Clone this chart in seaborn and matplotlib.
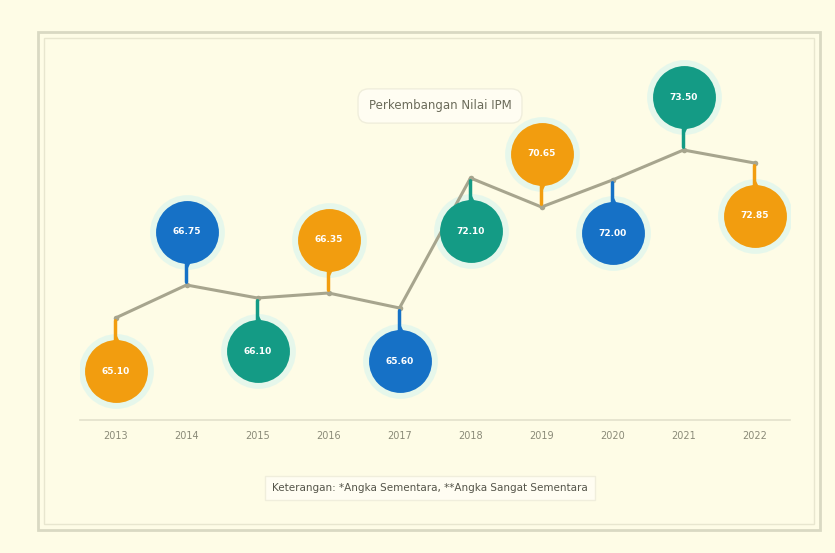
import matplotlib
matplotlib.use("Agg")
import matplotlib.pyplot as plt
import matplotlib.patches as mpatches
from matplotlib.transforms import offset_copy
import pandas as pd
import seaborn as sns

# data (labels are very blurry, values are estimates)
years = ['2013', '2014', '2015', '2016', '2017', '2018', '2019', '2020', '2021', '2022']
nilai = [65.10, 66.75, 66.10, 66.35, 65.60, 72.10, 70.65, 72.00, 73.50, 72.85]
posisi = ['bawah', 'atas', 'bawah', 'atas', 'bawah', 'bawah', 'atas', 'bawah', 'atas', 'bawah']
warna_bubble = ['#F29D0F', '#1671C6', '#149B85']

df = pd.DataFrame({'Tahun': range(len(years)), 'Nilai': nilai})

sns.set_theme(style='white')
plt.rcParams['font.family'] = ['DejaVu Sans']

bg = '#FEFCE6'
fig = plt.figure(figsize=(8.35, 5.53), dpi=100, facecolor=bg)
ax = fig.add_axes([80 / 835, (553 - 420) / 553, 710 / 835, 360 / 553])
ax.set_facecolor(bg)

# frame around the chart (double thin border)
fig.patches.append(mpatches.Rectangle((38 / 835, 1 - 530 / 553), 782 / 835, 498 / 553,
                                      transform=fig.transFigure, fill=False,
                                      edgecolor='#D9D9C3', linewidth=2.0))
fig.patches.append(mpatches.Rectangle((44 / 835, 1 - 524 / 553), 770 / 835, 486 / 553,
                                      transform=fig.transFigure, fill=False,
                                      edgecolor='#E8E6CF', linewidth=1.0))

sns.lineplot(data=df, x='Tahun', y='Nilai', ax=ax, color='#A7A58E', linewidth=2.2,
             marker='o', markersize=4, markeredgewidth=0, zorder=2)

# pin bubbles: circle offset from the point, pointer and stem toward the point
for i, (v, p) in enumerate(zip(nilai, posisi)):
    c = warna_bubble[i % 3]
    sign = 1 if p == 'atas' else -1
    tr_bub = offset_copy(ax.transData, fig=fig, x=0, y=sign * 53, units='dots')
    tr_tip = offset_copy(ax.transData, fig=fig, x=0, y=sign * 25, units='dots')
    ax.scatter([i], [v], transform=tr_bub, s=2900, color='#DDF6EE', alpha=0.7,
               linewidths=0, zorder=1.5)
    ax.annotate('', xy=(i, v), xytext=(0, sign * 30), textcoords='offset pixels',
                arrowprops=dict(arrowstyle='-', color=c, linewidth=2.5), zorder=3)
    ax.scatter([i], [v], transform=tr_tip, marker='v' if sign > 0 else '^', s=150,
               color=c, linewidths=0, zorder=5)
    ax.scatter([i], [v], transform=tr_bub, s=2050, color=c, linewidths=0, zorder=5)
    ax.text(i, v, f'{v:.2f}', transform=tr_bub, ha='center', va='center',
            fontsize=6.5, color='white', fontweight='bold', zorder=6)

ax.set_xlim(-0.5, 9.5)
ax.set_ylim(60, 78)
ax.set_xticks(range(len(years)))
ax.set_xticklabels(years, fontsize=7, color='#8A8A78')
ax.set_yticks([])
ax.set_xlabel('')
ax.set_ylabel('')
ax.tick_params(axis='x', length=0, pad=8)
for s in ['top', 'left', 'right']:
    ax.spines[s].set_visible(False)
ax.spines['bottom'].set_color('#E3E1CC')
ax.spines['bottom'].set_linewidth(1.2)

fig.text(440 / 835, 1 - 106 / 553, 'Perkembangan Nilai IPM', ha='center', va='center',
         fontsize=8.5, color='#6B6B5A',
         bbox=dict(boxstyle='round,pad=0.9', facecolor='#FFFDF2', edgecolor='#F0EEDC'))
fig.text(430 / 835, 1 - 488 / 553, 'Keterangan: *Angka Sementara, **Angka Sangat Sementara',
         ha='center', va='center', fontsize=7.5, color='#55554A',
         bbox=dict(boxstyle='square,pad=0.7', facecolor='#FFFDF2', edgecolor='#F0EEDC'))

fig.savefig('out.png', dpi=100, facecolor=bg)
